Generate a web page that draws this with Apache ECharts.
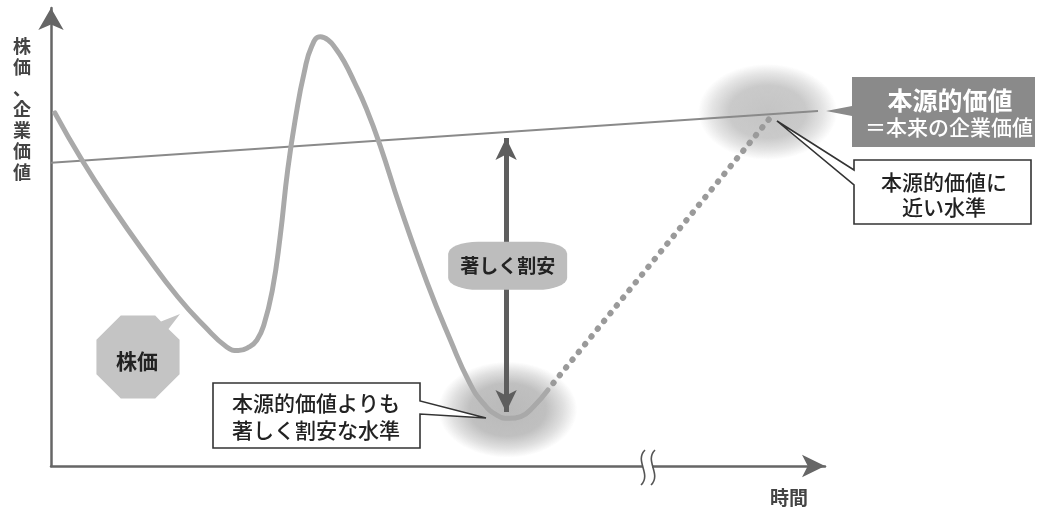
<!DOCTYPE html>
<html lang="ja">
<head>
  <meta http-equiv="Content-Type" content="text/html; charset=UTF-8">
  <title>株価と本源的価値</title>
  <style>
    html, body { margin: 0; padding: 0; background: #fff; }
    #myChart { width: 1039px; height: 511px; }
  </style>
</head>
<body>
  <div id="myChart"></div>
  <script src="https://cdn.jsdelivr.net/npm/echarts@6/dist/echarts.min.js"></script>
  <script>
    // 株価の推移（時間, 株価）
    const priceTime = [0.5, 4.0, 7.9, 12.1, 16.4, 19.9, 22.7, 24.2, 25.6, 26.6, 27.5, 28.6, 29.6, 30.6, 31.7, 32.7, 33.7, 34.8, 35.8, 36.8, 37.9, 39.2, 40.7, 42.5, 45.1, 48.6, 51.6, 54.1, 55.8, 57.6, 59.2, 60.7, 62.3, 64.2];
    const priceVals = [77.1, 66.8, 56.6, 46.5, 36.9, 30.4, 26.0, 25.2, 26.0, 27.5, 30.8, 38.4, 50.0, 64.9, 77.1, 85.8, 91.7, 93.7, 93.0, 91.1, 88.2, 83.8, 78.2, 70.1, 56.6, 40.0, 27.5, 18.1, 13.8, 11.1, 10.4, 10.8, 12.9, 16.6];
    // 回復の見通し（点線）
    const recoveryTime = [64.9, 92.9];
    const recoveryVals = [18.1, 76.0];
    // 本源的価値の線
    const valueTime = [0, 99.1];
    const valueVals = [66.2, 77.5];

    const zip = (xs, ys) => xs.map((x, i) => [x, ys[i]]);
    const font = '"Noto Sans CJK JP", "Noto Sans", sans-serif';

    const myChart = echarts.init(document.getElementById('myChart'));

    // 八角形の吹き出し
    function badgePoints() {
      const cx = 138, cy = 357, r = 45;
      const pts = [];
      for (let i = 0; i < 8; i++) {
        const a = -Math.PI / 2 - Math.PI / 8 + i * Math.PI / 4;
        pts.push([cx + r * Math.cos(a), cy + r * Math.sin(a)]);
        if (i === 1) {
          pts.push([161, 321.5]);
          pts.push([180, 314]);
          pts.push([168.5, 329]);
        }
      }
      return pts;
    }

    const option = {
      animation: false,
      grid: { left: 51, right: 214, top: 8, bottom: 45 },
      xAxis: {
        type: 'value', min: 0, max: 100,
        axisLine: { lineStyle: { color: '#666', width: 2.5 }, symbol: ['none', 'arrow'], symbolSize: [17, 23] },
        axisTick: { show: false }, axisLabel: { show: false }, splitLine: { show: false }
      },
      yAxis: {
        type: 'value', min: 0, max: 100,
        axisLine: { lineStyle: { color: '#666', width: 2.5 }, symbol: ['none', 'arrow'], symbolSize: [19, 22] },
        axisTick: { show: false }, axisLabel: { show: false }, splitLine: { show: false }
      },
      series: [
        {
          // 割安・本源的価値付近のぼかし
          type: 'custom',
          silent: true,
          z: 1,
          data: [
            [59.0, 12.3, 0],
            [92.6, 77.3, 1]
          ],
          renderItem(params, api) {
            const p = api.coord([api.value(0), api.value(1)]);
            const c = api.value(2) === 0 ? '185,185,185' : '196,196,196';
            return {
              type: 'circle',
              x: p[0], y: p[1],
              scaleX: 1.45,
              shape: { cx: 0, cy: 0, r: 48 },
              style: {
                fill: new echarts.graphic.RadialGradient(0.5, 0.5, 0.5, [
                  { offset: 0, color: 'rgba(' + c + ',1)' },
                  { offset: 0.55, color: 'rgba(' + c + ',0.9)' },
                  { offset: 0.8, color: 'rgba(' + c + ',0.45)' },
                  { offset: 1, color: 'rgba(' + c + ',0)' }
                ])
              }
            };
          }
        },
        {
          name: '本源的価値',
          type: 'line',
          silent: true,
          z: 2,
          showSymbol: false,
          data: zip(valueTime, valueVals),
          lineStyle: { color: '#8a8a8a', width: 2 },
          markLine: {
            silent: true,
            symbol: ['arrow', 'arrow'],
            symbolSize: [16, 22],
            label: { show: false },
            lineStyle: { color: '#5e5e5e', width: 5, type: 'solid' },
            data: [[{ coord: [58.8, 71.6] }, { coord: [58.8, 11.8] }]]
          },
          markPoint: {
            silent: true,
            symbol: 'roundRect',
            symbolSize: [119, 48],
            itemStyle: { color: '#bdbdbd' },
            label: {
              show: true, position: 'inside', color: '#222',
              fontSize: 19, fontWeight: 'bold', fontFamily: font
            },
            data: [{ coord: [59.0, 43.7], value: '著しく割安', label: { formatter: '著しく割安' } }]
          }
        },
        {
          name: '株価',
          type: 'line',
          silent: true,
          z: 3,
          smooth: 0.5,
          showSymbol: false,
          data: zip(priceTime, priceVals),
          lineStyle: { color: '#a9a9a9', width: 5, cap: 'round' }
        },
        {
          name: '回復',
          type: 'line',
          silent: true,
          z: 3,
          showSymbol: false,
          data: zip(recoveryTime, recoveryVals),
          lineStyle: { color: '#9a9a9a', width: 6, type: [0.5, 9.5], cap: 'round' }
        }
      ],
      graphic: [
        // 縦軸名
        {
          type: 'text', z: 50,
          style: {
            text: '株\n価\n、\n企\n業\n価\n値', x: 22, y: 36, textAlign: 'center',
            fill: '#444', fontSize: 18, fontWeight: 'bold', fontFamily: font, lineHeight: 21
          }
        },
        // 横軸名
        {
          type: 'text', z: 50,
          style: {
            text: '時間', x: 789, y: 498, textAlign: 'center', textVerticalAlign: 'middle',
            fill: '#444', fontSize: 19, fontWeight: 'bold', fontFamily: font
          }
        },
        // 省略記号
        { type: 'rect', z: 50, shape: { x: 643, y: 462, width: 9, height: 9 }, style: { fill: '#fff' } },
        {
          type: 'bezierCurve', z: 51,
          shape: { x1: 645, y1: 450, cpx1: 634, cpy1: 461, cpx2: 652, cpy2: 474, x2: 641, y2: 485 },
          style: { stroke: '#555', lineWidth: 1.6, fill: null }
        },
        {
          type: 'bezierCurve', z: 51,
          shape: { x1: 655, y1: 450, cpx1: 644, cpy1: 461, cpx2: 662, cpy2: 474, x2: 651, y2: 485 },
          style: { stroke: '#555', lineWidth: 1.6, fill: null }
        },
        // 株価の吹き出し
        {
          type: 'polygon', z: 50,
          shape: { points: badgePoints() },
          style: { fill: '#c4c4c4' }
        },
        {
          type: 'text', z: 51,
          style: {
            text: '株価', x: 137, y: 361, textAlign: 'center', textVerticalAlign: 'middle',
            fill: '#222', fontSize: 21, fontWeight: 'bold', fontFamily: font
          }
        },
        // 割安水準の吹き出し
        {
          type: 'polygon', z: 50,
          shape: { points: [[213, 383], [420, 383], [420, 401], [486, 418], [420, 414], [420, 448], [213, 448]] },
          style: { fill: '#fff', stroke: '#333', lineWidth: 1.6 }
        },
        {
          type: 'text', z: 51,
          style: {
            text: '本源的価値よりも', x: 316, y: 403, textAlign: 'center', textVerticalAlign: 'middle',
            fill: '#222', fontSize: 21, fontWeight: 500, fontFamily: font
          }
        },
        {
          type: 'text', z: 51,
          style: {
            text: '著しく割安な水準', x: 316, y: 430, textAlign: 'center', textVerticalAlign: 'middle',
            fill: '#222', fontSize: 21, fontWeight: 500, fontFamily: font
          }
        },
        // 本源的価値のラベル
        {
          type: 'polygon', z: 50,
          shape: { points: [[852, 77], [1035, 77], [1035, 147], [852, 147], [852, 116], [826, 111], [852, 106]] },
          style: { fill: '#8a8a8a' }
        },
        {
          type: 'text', z: 51,
          style: {
            text: '本源的価値', x: 950, y: 100, textAlign: 'center', textVerticalAlign: 'middle',
            fill: '#fff', fontSize: 25, fontWeight: 'bold', fontFamily: font
          }
        },
        {
          type: 'text', z: 51,
          style: {
            text: '＝本来の企業価値', x: 949, y: 127, textAlign: 'center', textVerticalAlign: 'middle',
            fill: '#fff', fontSize: 21, fontWeight: 500, fontFamily: font
          }
        },
        // 本源的価値に近い水準の吹き出し
        {
          type: 'polygon', z: 50,
          shape: { points: [[854, 160], [1031, 160], [1031, 224], [854, 224], [854, 185], [777, 121], [854, 170]] },
          style: { fill: '#fff', stroke: '#333', lineWidth: 1.6 }
        },
        {
          type: 'text', z: 51,
          style: {
            text: '本源的価値に', x: 944, y: 182, textAlign: 'center', textVerticalAlign: 'middle',
            fill: '#222', fontSize: 21, fontWeight: 500, fontFamily: font
          }
        },
        {
          type: 'text', z: 51,
          style: {
            text: '近い水準', x: 944, y: 207, textAlign: 'center', textVerticalAlign: 'middle',
            fill: '#222', fontSize: 21, fontWeight: 500, fontFamily: font
          }
        }
      ]
    };

    myChart.setOption(option);
  </script>
</body>
</html>
